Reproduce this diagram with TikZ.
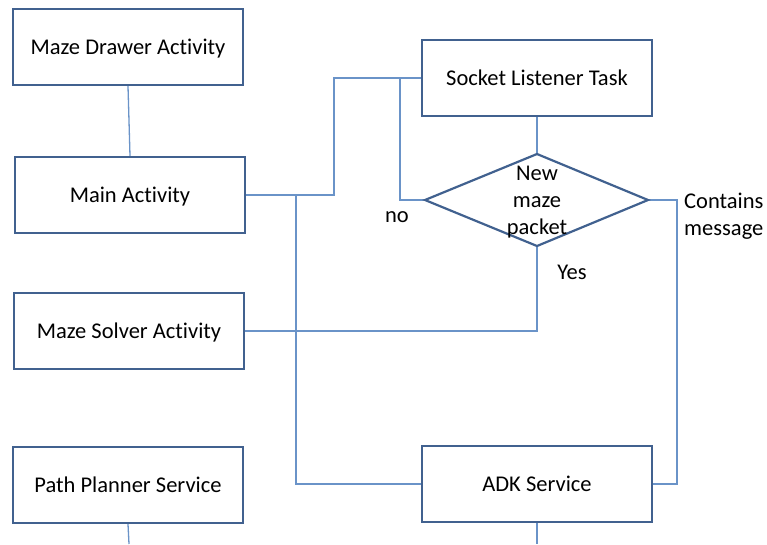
\documentclass[tikz,border=0pt]{standalone}
\usepackage{fontspec}
\setmainfont{Carlito}[RawFeature={-liga}]
\definecolor{boxc}{HTML}{41618F}
\definecolor{linec}{HTML}{6A93C8}
\begin{document}
\begin{tikzpicture}[x=1pt,y=-1pt,
  box/.style={draw=boxc,line width=2.2pt,fill=white,minimum width=230pt,minimum height=76pt,inner sep=0pt,text height=20pt,text depth=4.5pt,font=\fontsize{22.5}{27}\selectfont},
  conn/.style={draw=linec,line width=1.3pt},
  lbl/.style={inner sep=0pt,font=\fontsize{22.5}{27}\selectfont}]
\useasboundingbox (0,0) rectangle (767,544);
\coordinate (pend) at (129,544);
\coordinate (aend) at (537,544);
\node[box] (drawer) at (128,47) {Maze Drawer Activity};
\node[box] (main) at (130,195) {Main Activity};
\node[box] (socket) at (537,78) {Socket Listener Task};
\node[box] (solver) at (129,331) {Maze Solver Activity};
\node[box] (planner) at (128,485) {Path Planner Service};
\node[box] (adk) at (537,484) {ADK Service};
\coordinate (dt) at (537,154);
\coordinate (db) at (537,246);
\coordinate (dl) at (425,200);
\coordinate (dr) at (648,200);
\draw[conn] (drawer.south) -- (main.north);
\draw[conn] (main.east) -- (334,195) |- (socket.west);
\draw[conn] (296,195) |- (adk.west);
\draw[conn] (400,78) |- (dl);
\draw[conn] (socket.south) -- (dt);
\draw[conn] (db) |- (solver.east);
\draw[conn] (dr) -| (677,484) -- (adk.east);
\draw[conn] (planner.south) -- (pend);
\draw[conn] (adk.south) -- (aend);
\draw[draw=boxc,line width=2.2pt,line join=miter] (dt) -- (dr) -- (db) -- (dl) -- cycle;
\node[lbl,align=center] (q) at (537,202) {New\\maze\\packet};
\node[lbl] (no) at (397,217) {no};
\node[lbl] (yes) at (572,272) {Yes};
\node[lbl,align=left,anchor=west] (cm) at (684,216) {Contains\\message};
\end{tikzpicture}
\end{document}
